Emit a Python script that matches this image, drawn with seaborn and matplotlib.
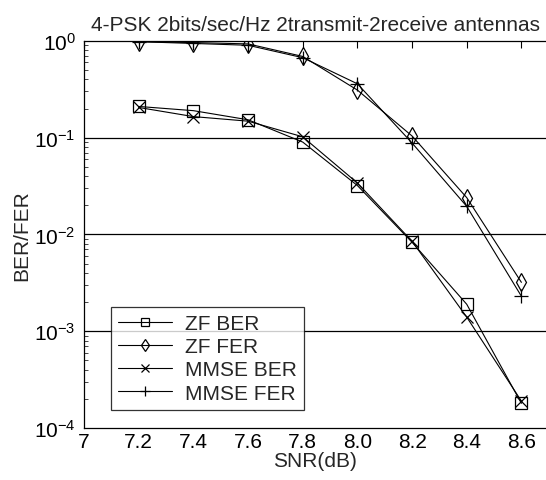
import numpy as np
import matplotlib
matplotlib.use('Agg')
import matplotlib.pyplot as plt
import pandas as pd
import seaborn as sns

# 数据
snr = [7.2, 7.4, 7.6, 7.8, 8.0, 8.2, 8.4, 8.6]
zf_ber = [0.21, 0.19, 0.153, 0.09, 0.032, 0.0083, 0.0019, 0.00018]
zf_fer = [0.98, 0.96, 0.93, 0.69, 0.31, 0.104, 0.024, 0.0032]
mmse_ber = [0.205, 0.165, 0.148, 0.102, 0.034, 0.0085, 0.0014, 0.00019]
mmse_fer = [0.98, 0.94, 0.90, 0.67, 0.36, 0.088, 0.0195, 0.0023]
x_ticks = [7, 7.2, 7.4, 7.6, 7.8, 8.0, 8.2, 8.4, 8.6]
x_tick_labels = ['7', '7.2', '7.4', '7.6', '7.8', '8.0', '8.2', '8.4', '8.6']

sns.set_style('white')
plt.rcParams['font.family'] = ['Liberation Sans', 'DejaVu Sans']
plt.rcParams['mathtext.default'] = 'regular'

fig = plt.figure(figsize=(5.46, 4.81), dpi=100)
ax = fig.add_axes([0.154, 0.108, 0.846, 0.805])

series = [
    ('ZF BER', zf_ber, 's', 9),
    ('ZF FER', zf_fer, 'd', 9),
    ('MMSE BER', mmse_ber, 'x', 8),
    ('MMSE FER', mmse_fer, '+', 10),
]
for name, vals, mk, ms in series:
    sns.lineplot(x=snr, y=vals, ax=ax, color='black', linewidth=0.8,
                 marker=mk, markersize=ms, markerfacecolor='none',
                 markeredgecolor='black', markeredgewidth=0.9, label=name)

ax.set_yscale('log')
ax.set_ylim(1e-4, 1)
ax.set_xlim(7, 8.69)
ax.set_xticks(x_ticks)
ax.set_xticklabels(x_tick_labels)
for yv in [1e-1, 1e-2, 1e-3]:
    ax.axhline(yv, color='black', linewidth=0.9, zorder=0)

ax.tick_params(axis='both', which='major', direction='in', length=5,
               top=True, labelsize=15, colors='black', pad=6)
ax.tick_params(axis='y', which='minor', direction='in', length=3, left=True)
ax.tick_params(axis='x', which='major', pad=3)
for s in ['left', 'bottom', 'top']:
    ax.spines[s].set_color('black')
    ax.spines[s].set_linewidth(0.9)
ax.spines['right'].set_visible(False)

ax.set_xlabel('SNR(dB)', fontsize=15, labelpad=0)
ax.set_ylabel('BER/FER', fontsize=15, labelpad=2)
ax.set_title('4-PSK 2bits/sec/Hz 2transmit-2receive antennas', fontsize=15, pad=8)

leg = ax.legend(loc='lower left', bbox_to_anchor=(0.035, 0.02), fontsize=15,
                frameon=True, fancybox=False, edgecolor='black', handlelength=2.6,
                borderpad=0.35, labelspacing=0.2, handletextpad=0.6, markerscale=0.7)
leg.get_frame().set_linewidth(0.9)

fig.savefig('out.png', dpi=100)
